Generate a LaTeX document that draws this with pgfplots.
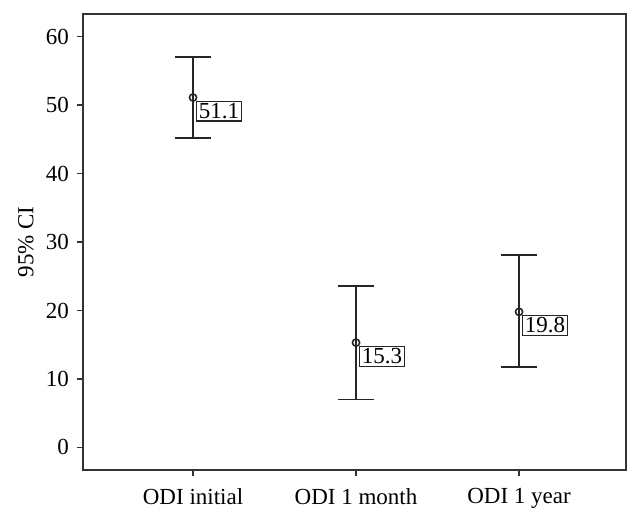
\documentclass[border=0pt]{standalone}
\usepackage{fontspec}
\setmainfont{Liberation Serif}
\usepackage{pgfplots}
\pgfplotsset{compat=1.18}

\begin{document}
\fontsize{11.5}{13.5}\selectfont
\begin{tikzpicture}
\begin{axis}[
    scale only axis,
    width=271.5pt, height=228pt,
    xmin=0.325, xmax=3.656,
    ymin=-3.3, ymax=63.3,
    xtick={1,2,3},
    xticklabels={ODI initial, ODI 1 month, ODI 1 year},
    ytick={0,10,...,60},
    /pgf/number format/assume math mode=true,
    tick align=outside,
    major tick length=3pt,
    axis line style={black!80, line width=0.8pt},
    every tick/.style={black!80, line width=0.8pt},
    xtick pos=bottom, ytick pos=left,
    xticklabel style={yshift=-2pt},
    ylabel={95\% CI},
    ylabel style={at={(axis description cs:-0.105,0.5)}, anchor=center, rotate=0},
    nodes near coords,
    point meta=explicit symbolic,
    every node near coord/.append style={
        anchor=north west, xshift=1.5pt, yshift=-1.5pt,
        draw=black!85, line width=0.6pt, fill=white,
        inner sep=1.1pt, text=black, font=\fontsize{11.5}{13.5}\selectfont},
]
\addplot[
    only marks,
    mark=o, mark size=1.8pt,
    mark options={black!85, line width=0.8pt},
    error bars/.cd,
        y dir=both, y explicit,
        error bar style={black!85, line width=0.8pt},
        error mark options={rotate=90, mark size=9pt, black!85, line width=0.8pt},
    ]
    coordinates {
    (1,51.1) += (0,5.9) -= (0,5.9) [51.1]
    (2,15.3) += (0,8.3) -= (0,8.3) [15.3]
    (3,19.8) += (0,8.3) -= (0,8.1) [19.8]
    };
\end{axis}
\path ([shift={(-41.5pt,-25pt)}]current axis.south west)
    rectangle ([shift={(8pt,7pt)}]current axis.north east);
\end{tikzpicture}
\end{document}
